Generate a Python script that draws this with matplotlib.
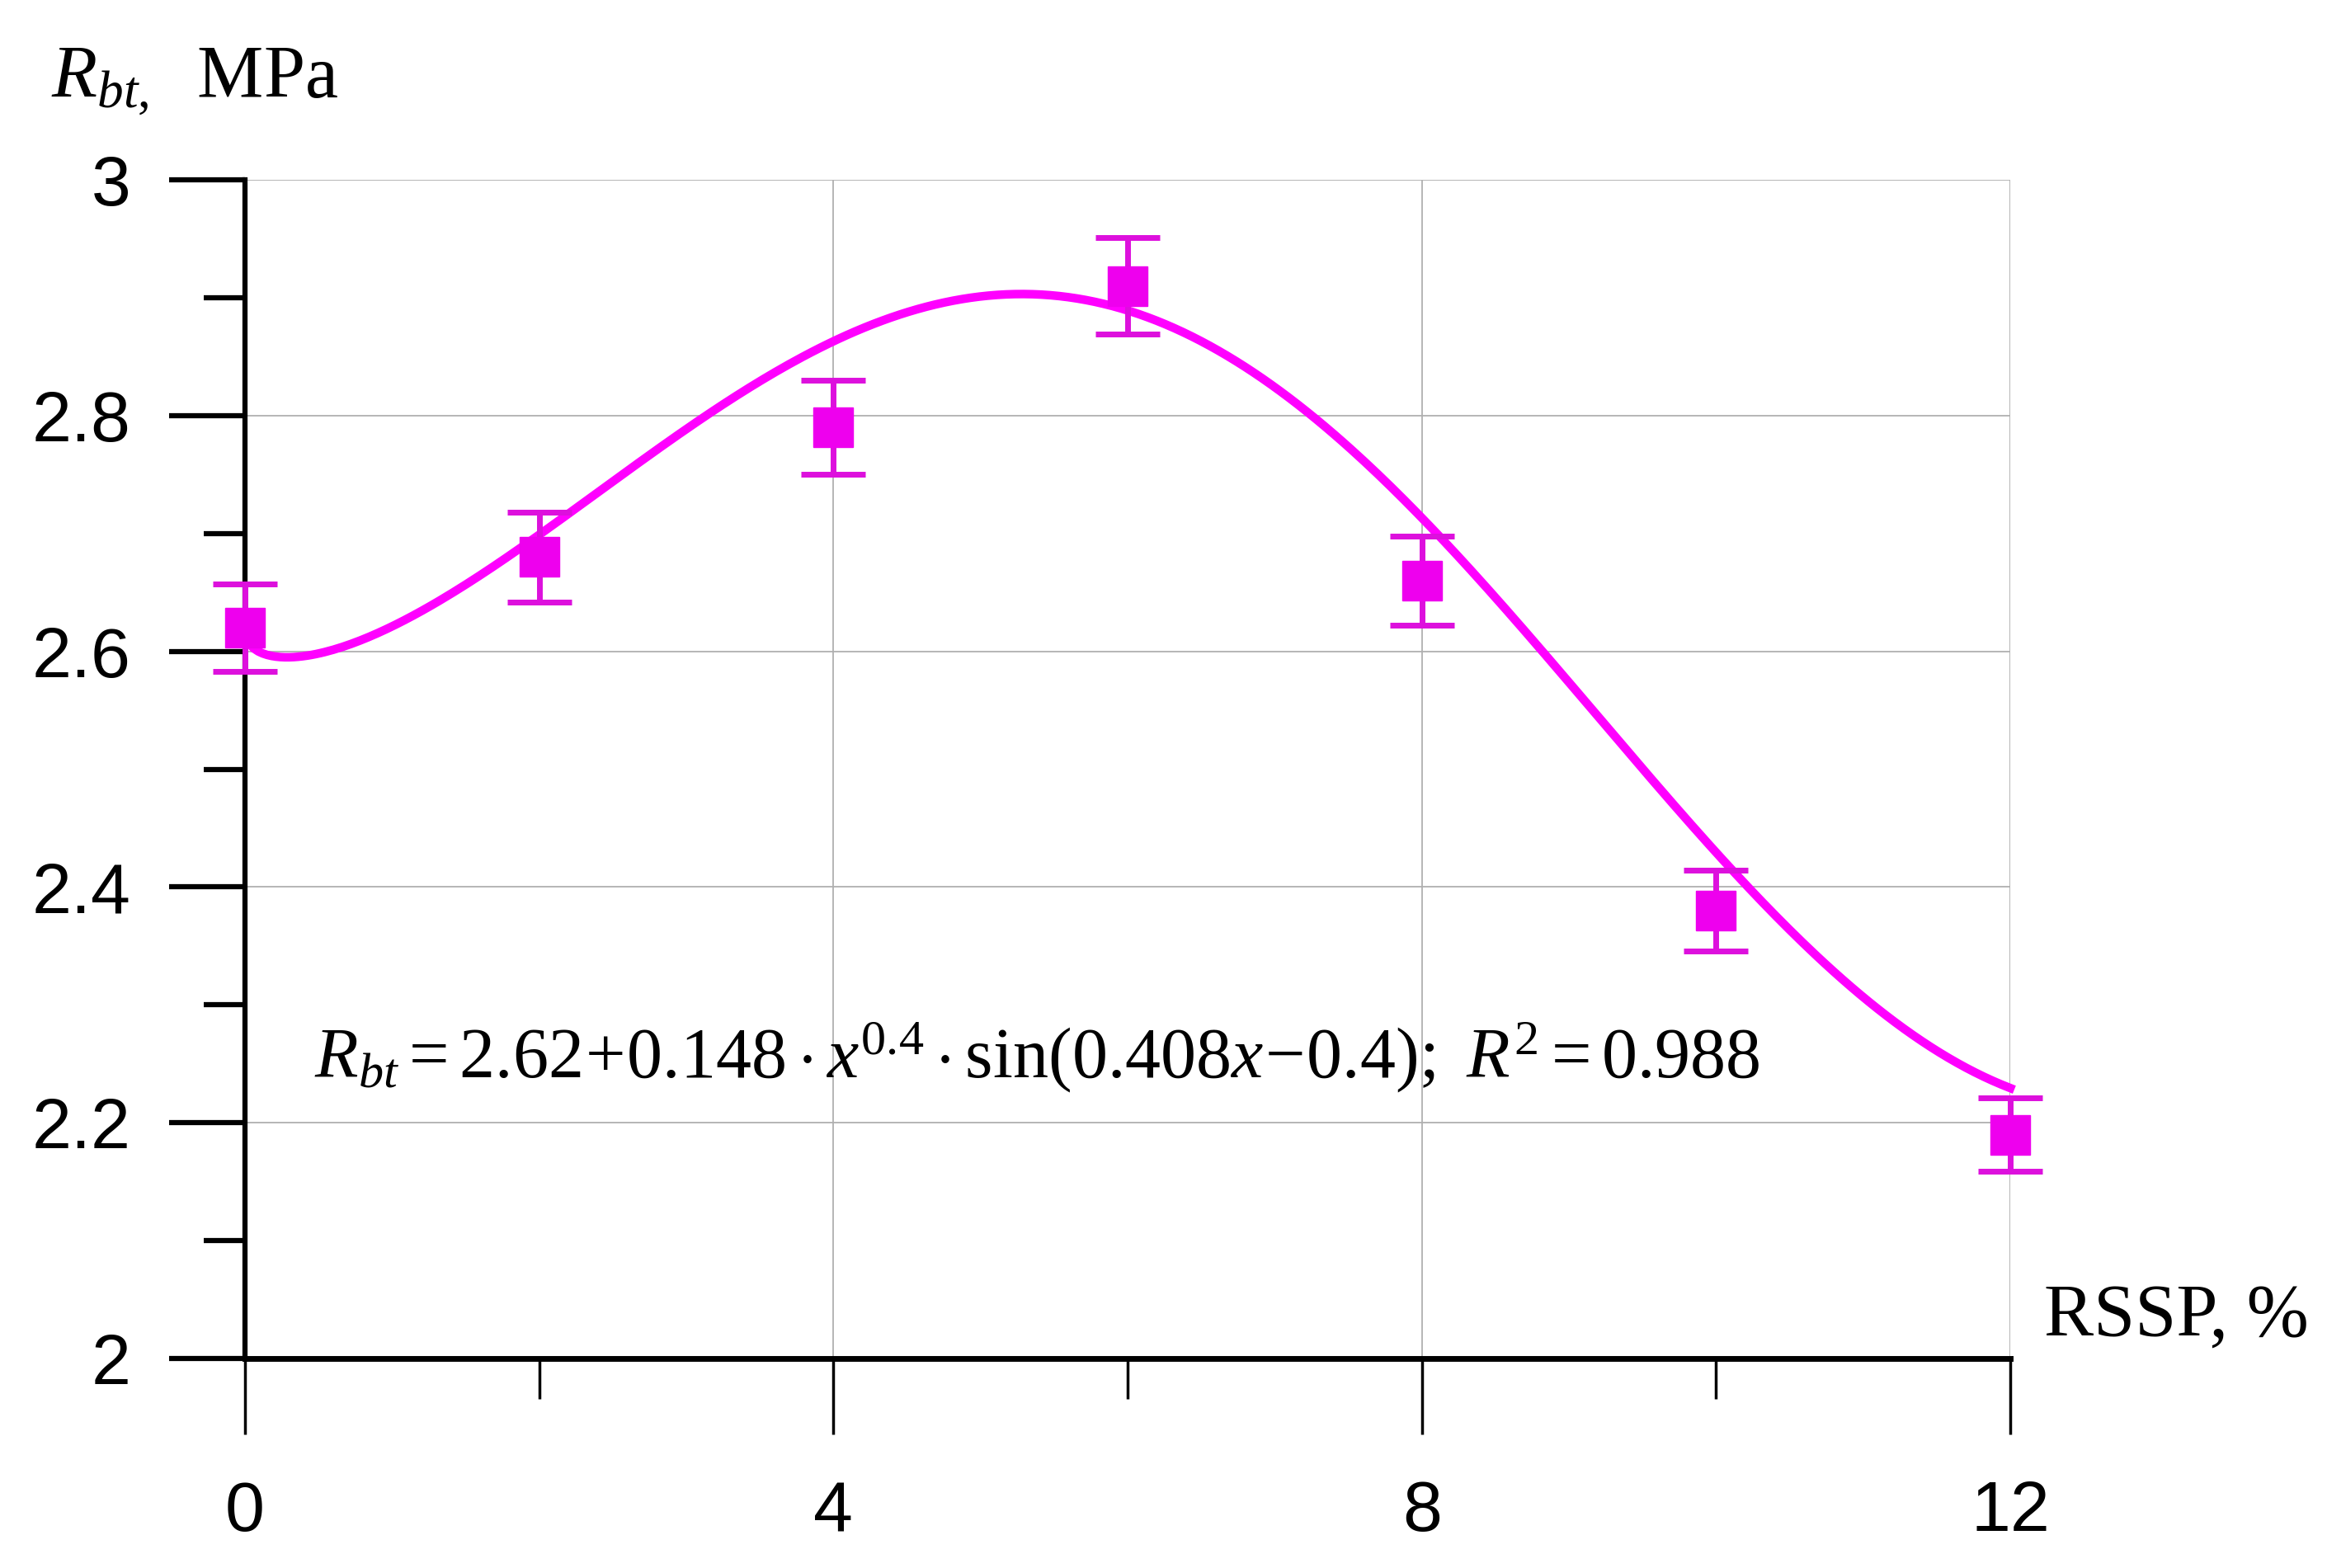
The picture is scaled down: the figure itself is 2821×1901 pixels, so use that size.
import matplotlib.pyplot as plt
import numpy as np
from matplotlib.ticker import MultipleLocator

# measured points (RSSP content, %) and tensile strength, MPa
rssp = [0, 2, 4, 6, 8, 10, 12]
r_bt = [2.62, 2.68, 2.79, 2.91, 2.66, 2.38, 2.19]
r_err = [0.037, 0.038, 0.040, 0.041, 0.038, 0.034, 0.031]

# fit coefficients as printed on the chart
fit_a, fit_b, fit_p, fit_w, fit_phi = 2.62, 0.148, 0.4, 0.408, 0.4
fit_r2 = 0.988

plt.rcParams['mathtext.fontset'] = 'custom'
plt.rcParams['mathtext.rm'] = 'Liberation Serif'
plt.rcParams['mathtext.it'] = 'Liberation Serif:italic'

fig = plt.figure(figsize=(28.21, 19.01), dpi=100)
ax = fig.add_axes([0.1053, 0.1336, 0.7586, 0.7517])

# fitted curve
xs = np.linspace(0, 12, 400)
ys = fit_a + fit_b * xs ** fit_p * np.sin(fit_w * xs - fit_phi)
ax.plot(xs, ys, color='#ff00ff', linewidth=7.5, zorder=3, clip_on=False)

eb = ax.errorbar(rssp, r_bt, yerr=r_err, fmt='s', color='#ee00ee', ecolor='#dd10dd',
                 markersize=34, elinewidth=5, capsize=28, capthick=5, zorder=4)
for artist in eb.lines[0:1] + tuple(eb.lines[1]) + tuple(eb.lines[2]):
    artist.set_clip_on(False)

ax.set_xlim(0, 12)
ax.set_ylim(2, 3)
ax.xaxis.set_major_locator(MultipleLocator(4))
ax.xaxis.set_minor_locator(MultipleLocator(2))
ax.yaxis.set_minor_locator(MultipleLocator(0.1))
ax.set_yticks([2, 2.2, 2.4, 2.6, 2.8, 3])
ax.set_yticklabels(['2', '2.2', '2.4', '2.6', '2.8', '3'])

for s in ['top', 'right']:
    ax.spines[s].set_visible(False)
ax.spines['left'].set_linewidth(4.5)
ax.spines['bottom'].set_linewidth(5)

ax.tick_params(axis='y', which='major', length=66, width=4.5, pad=34,
               labelsize=62, labelfontfamily='Liberation Sans')
ax.tick_params(axis='y', which='minor', length=36, width=4.5)
ax.tick_params(axis='x', which='major', length=66, width=2.5, pad=40,
               labelsize=62, labelfontfamily='Liberation Sans')
ax.tick_params(axis='x', which='minor', length=35, width=2.5)

ax.grid(True, which='major', color='#b0b0b0', linewidth=1.3)
ax.set_axisbelow(True)

eq = (r'$R_{bt}=2.62\!+\!0.148\cdot x^{0.4}\cdot\mathrm{sin}(0.408x\!-\!0.4);\ '
      r'R^2=0.988$')
ax.text(0.039, 0.238, eq, transform=ax.transAxes, fontsize=62,
        ha='left', va='baseline')

fig.text(62 / 2821, 1 - 117 / 1901, r'$R_{bt,}$  MPa', fontsize=65,
         family='Liberation Serif', ha='left', va='baseline')
fig.text(2478 / 2821, 1 - 1620 / 1901, 'RSSP, %', fontsize=65,
         family='Liberation Serif', ha='left', va='baseline')

plt.savefig('out.png', dpi=100)
